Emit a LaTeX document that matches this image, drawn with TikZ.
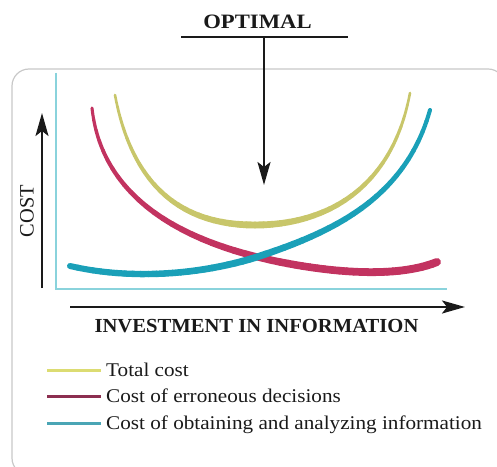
\documentclass[tikz,border=0pt]{standalone}
\usepackage{fontspec}
\setmainfont{Liberation Serif}
\newfontfamily\legendfont[FakeStretch=1.09]{Liberation Serif}
\newfontfamily\optfont[FakeStretch=1.11]{Liberation Serif}
\newfontfamily\invfont[FakeStretch=1.035]{Liberation Serif}
\usetikzlibrary{arrows.meta}
\definecolor{ycurve}{HTML}{C8C66A}
\definecolor{mcurve}{HTML}{C23360}
\definecolor{ccurve}{HTML}{1AA0B8}
\definecolor{axiscol}{HTML}{8AD3DC}
\definecolor{framecol}{HTML}{C8C8C8}
\definecolor{ylegend}{HTML}{DCDC72}
\definecolor{mlegend}{HTML}{8C2F50}
\definecolor{clegend}{HTML}{4AA5B5}
\definecolor{ink}{HTML}{1A1A1A}
\newcommand\taper[5]{%
  \foreach \i in {0,...,23}{%
    \pgfmathsetmacro\ta{\i/24}%
    \pgfmathsetmacro\tb{(\i+1)/24}%
    \pgfmathsetmacro\wd{#4+(#5-#4)*(\i+0.5)/24}%
    \draw[#1,line width=\wd bp,line cap=round]
      plot[domain=\ta:\tb,samples=4,variable=\t] ({#2(\t)},{#3(\t)});
  }%
}
\begin{document}
\begin{tikzpicture}[x=1bp,y=-1bp,
  declare function={
    qbz(\t,\a,\b,\c,\d)=(1-\t)^3*\a+3*(1-\t)^2*\t*\b+3*(1-\t)*\t^2*\c+\t^3*\d;
    cyax(\t)=qbz(\t,115,133,185,255); cyay(\t)=qbz(\t,95,190,225,225);
    cybx(\t)=qbz(\t,255,325,392,410); cyby(\t)=qbz(\t,225,225,190,93);
    cmax(\t)=qbz(\t,92,102,185,280);  cmay(\t)=qbz(\t,108,200,243,262);
    cmbx(\t)=qbz(\t,280,340,400,437); cmby(\t)=qbz(\t,262,274,277,262);
    ccax(\t)=qbz(\t,70,130,200,257);  ccay(\t)=qbz(\t,266,280,275,257);
    ccbx(\t)=qbz(\t,257,330,405,430); ccby(\t)=qbz(\t,257,233,200,110);
  },
  arrowline/.style={draw=ink,line width=2.2bp,-{Stealth[length=23bp,width=13bp,inset=5bp]}},
  legendline/.style={line width=3bp},
  capslabel/.style={text=ink,inner sep=0pt},
  legendtext/.style={font=\legendfont\fontsize{19.5}{23}\selectfont,text=ink,inner sep=0pt,anchor=base west}
]
\useasboundingbox (0,0) rectangle (497,467);
% frame
\draw[framecol,line width=1.2bp,rounded corners=17bp] (12,69) rectangle (505,475);
% axes (cyan)
\coordinate (axtop) at (56,73);
\coordinate (axorigin) at (56,289);
\coordinate (axright) at (447,289);
\draw[axiscol,line width=1.8bp] (axtop) -- (axorigin) -- (axright);
% curves
\taper{ycurve}{cyax}{cyay}{2.5}{7}
\taper{ycurve}{cybx}{cyby}{7}{2.5}
\taper{mcurve}{cmax}{cmay}{3}{7.5}
\taper{mcurve}{cmbx}{cmby}{7.5}{8}
\taper{ccurve}{ccax}{ccay}{6}{7}
\taper{ccurve}{ccbx}{ccby}{7}{4}
% optimal label and pointer
\node[capslabel,font=\optfont\bfseries\fontsize{20.5}{24}\selectfont,anchor=base] (opt) at (257.5,29) {OPTIMAL};
\coordinate (barL) at (181,37);
\coordinate (barR) at (348,37);
\coordinate (barM) at (264,37);
\coordinate (optTip) at (264,185);
\draw[ink,line width=2.6bp] (barL) -- (barR);
\draw[arrowline] (barM) -- (optTip);
% cost axis arrow
\coordinate (costBase) at (42,288);
\coordinate (costTip) at (42,113);
\draw[arrowline] (costBase) -- (costTip);
\node[capslabel,font=\fontsize{20.5}{24}\selectfont,rotate=90,anchor=base] (cost) at (33.5,211) {COST};
% investment arrow
\coordinate (invBase) at (70,307);
\coordinate (invTip) at (465,307);
\draw[arrowline] (invBase) -- (invTip);
\node[capslabel,font=\invfont\bfseries\fontsize{20}{24}\selectfont,anchor=base] (inv) at (256.5,332) {INVESTMENT IN INFORMATION};
% legend
\coordinate (l1a) at (47,370); \coordinate (l1b) at (101,370);
\coordinate (l2a) at (47,396); \coordinate (l2b) at (101,396);
\coordinate (l3a) at (47,423); \coordinate (l3b) at (101,423);
\draw[legendline,ylegend] (l1a) -- (l1b);
\draw[legendline,mlegend] (l2a) -- (l2b);
\draw[legendline,clegend] (l3a) -- (l3b);
\node[legendtext] (t1) at (106,376) {Total cost};
\node[legendtext] (t2) at (106,402) {Cost of erroneous decisions};
\node[legendtext] (t3) at (106,429) {Cost of obtaining and analyzing information};
\end{tikzpicture}
\end{document}
